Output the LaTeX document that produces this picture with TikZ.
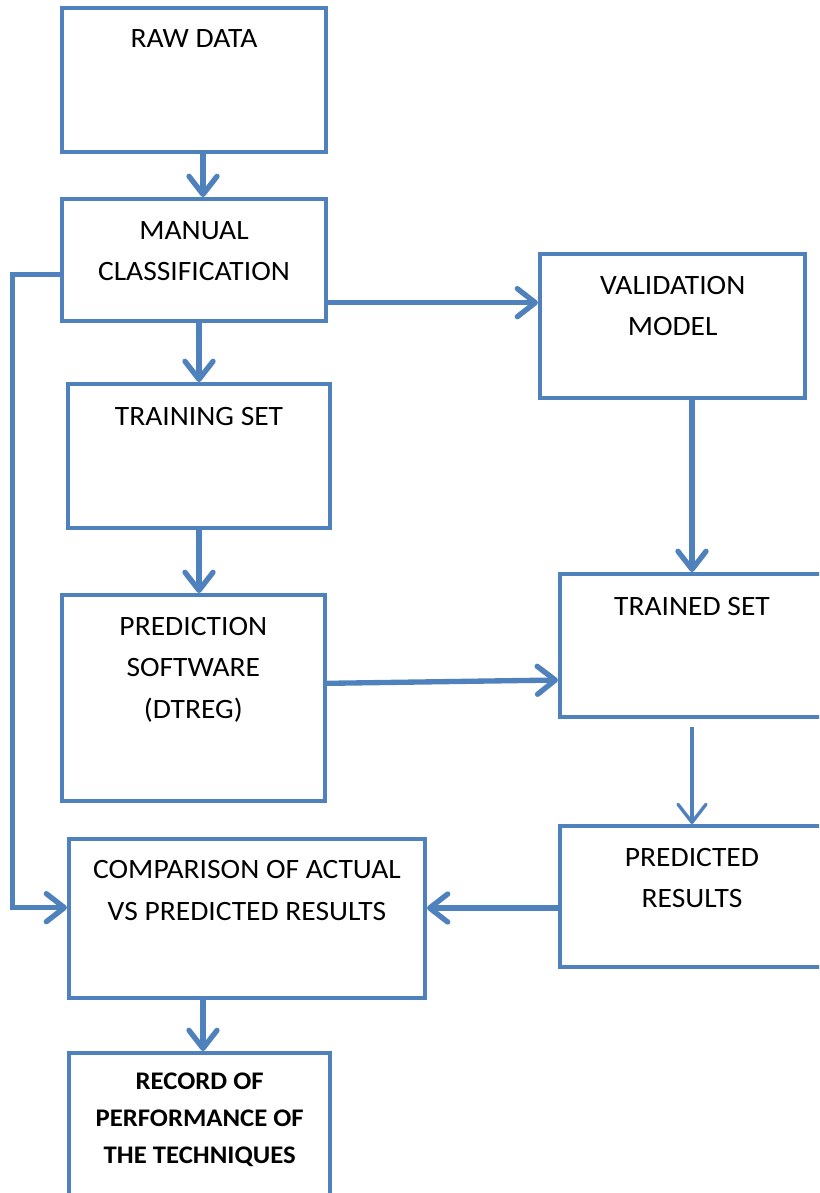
\documentclass[tikz,border=0pt]{standalone}
\usepackage{fontspec}
\setmainfont{Carlito}[FakeStretch=1.055]
\usetikzlibrary{arrows.meta, positioning}
\definecolor{flowblue}{RGB}{79, 129, 189}

\begin{document}
\begin{tikzpicture}[x=0.75pt, y=-0.75pt,
  stage/.style={draw=flowblue, line width=3pt, minimum width=198pt, minimum height=108pt, inner sep=0pt, anchor=north west},
  title/.style={font=\fontsize{21}{31}\selectfont, align=center, inner sep=0pt, anchor=north},
  flow/.style={draw=flowblue, line width=4pt, -{Straight Barb[length=13.5pt, width=21pt, round]}}]

  \clip[use as bounding box] (0,0) rectangle (819,1193);

  % Left column
  \node[stage] (raw) at (60,6) {};
  \node[title, below=17.5pt of raw.north] (rawtxt) {RAW DATA};

  \node[stage, minimum height=91.5pt] (manual) at (60,197) {};
  \node[title, below=18pt of manual.north] (manualtxt) {MANUAL\\CLASSIFICATION};

  \node[stage, minimum width=196.5pt] (training) at (66,382) {};
  \node[title, below=18.5pt of training.north] (trainingtxt) {TRAINING SET};

  \node[stage, minimum width=197pt, minimum height=154.5pt] (prediction) at (60,593) {};
  \node[title, below=18pt of prediction.north] (predictiontxt) {PREDICTION\\SOFTWARE\\(DTREG)};

  \node[stage, minimum width=267pt, minimum height=119pt] (comparison) at (67,837) {};
  \node[title, below=17.5pt of comparison.north] (comparisontxt) {COMPARISON OF ACTUAL\\VS PREDICTED RESULTS};

  \node[stage, minimum width=196pt, minimum height=112pt] (record) at (67,1051) {};
  \node[title, font=\bfseries\fontsize{19}{28}\selectfont, below=16pt of record.north] (recordtxt) {RECORD OF\\PERFORMANCE OF\\THE TECHNIQUES};

  % Right column
  \node[stage, minimum width=199pt] (validation) at (538,252) {};
  \node[title, below=18pt of validation.north] (validationtxt) {VALIDATION\\MODEL};

  \node[stage, minimum height=107pt] (trained) at (558,572) {};
  \node[title, below=18.5pt of trained.north] (trainedtxt) {TRAINED SET};

  \node[stage, minimum height=106pt] (predicted) at (558,824) {};
  \node[title, below=18pt of predicted.north] (predictedtxt) {PREDICTED\\RESULTS};

  % Connectors
  \draw[flow] ([xshift=6.75pt]raw.south) -- ([xshift=6.75pt]raw.south |- manual.north);
  \draw[flow] (training.north |- manual.south) -- (training.north);
  \draw[flow] (training.south) -- (training.south |- prediction.north);
  \draw[flow] ([yshift=-32pt]manual.east) -- ([yshift=-32pt]manual.east -| validation.west);
  \draw[flow] (trained.north |- validation.south) -- (trained.north);
  \draw[flow] ([yshift=11pt]prediction.east) -- ([yshift=-26pt]trained.west);
  \draw[flow, line width=2.5pt] ([yshift=-6pt]trained.south) -- (predicted.north);
  \draw[flow] ([yshift=-8.5pt]predicted.west) -- ([yshift=-8.5pt]predicted.west -| comparison.east);
  \draw[flow] ([xshift=2.5pt]record.north |- comparison.south) -- ([xshift=2.5pt]record.north);

  % Feedback line on the left
  \coordinate (loopx) at (12.5,0);
  \coordinate (cmpin) at ([yshift=8pt]comparison.west);
  \draw[flow] ([yshift=-11pt]manual.west) -- ([yshift=-11pt]manual.west -| loopx) -- (loopx |- cmpin) -- (cmpin);
\end{tikzpicture}
\end{document}
